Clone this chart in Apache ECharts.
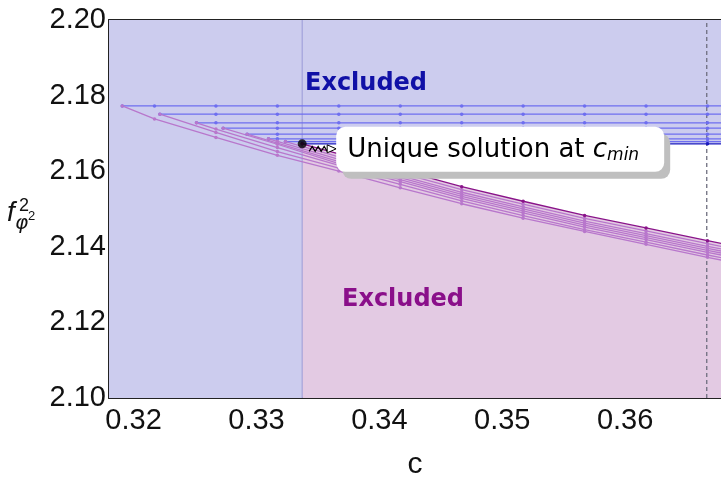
<!DOCTYPE html>
<html>
<head>
<meta charset="utf-8">
<script src="https://cdn.jsdelivr.net/npm/echarts@6/dist/echarts.min.js"></script>
<style>
  html, body { margin: 0; padding: 0; background: #fff; }
  #main { width: 721px; height: 478px; }
</style>
</head>
<body>
<div id="main"></div>
<script>
// start point (c, f^2) of each bound, lowest order first; the last one is c_min
const startC = [0.31908, 0.32214, 0.32512, 0.32729, 0.32924, 0.33098, 0.33236, 0.33372];
const startF = [2.17728, 2.17509, 2.17279, 2.17139, 2.16980, 2.16856, 2.16785, 2.16724];
// upper bounds (blue) are flat at these values
const upperF = [2.17728, 2.17509, 2.17279, 2.17139, 2.16980, 2.16856, 2.16785, 2.16724];
// c values where the bounds are sampled
const gridC = [0.3217, 0.3267, 0.3317, 0.3367, 0.3417, 0.3467, 0.3517, 0.3567, 0.3617, 0.3667, 0.3717];
// lower bounds (purple), one row per bound, null before the start
const lowerF = [
  [2.17384, 2.16893, 2.16420, 2.16005, 2.15562, 2.15139, 2.14756, 2.14407, 2.14066, 2.13723, 2.13395],
  [null, 2.17025, 2.16520, 2.16082, 2.15654, 2.15213, 2.14827, 2.14452, 2.14121, 2.13783, 2.13466],
  [null, 2.17115, 2.16626, 2.16151, 2.15723, 2.15282, 2.14896, 2.14521, 2.14190, 2.13852, 2.13535],
  [null, null, 2.16713, 2.16203, 2.15776, 2.15335, 2.14949, 2.14574, 2.14243, 2.13905, 2.13588],
  [null, null, 2.16745, 2.16256, 2.15829, 2.15388, 2.15002, 2.14627, 2.14296, 2.13958, 2.13641],
  [null, null, 2.16790, 2.16312, 2.15884, 2.15443, 2.15057, 2.14682, 2.14351, 2.14013, 2.13696],
  [null, null, null, 2.16380, 2.15953, 2.15512, 2.15126, 2.14751, 2.14420, 2.14082, 2.13765],
  [null, null, null, 2.16460, 2.16032, 2.15591, 2.15205, 2.14830, 2.14499, 2.14161, 2.13844]
];
const cDashed = 0.36664;
const xTicks = [0.32, 0.33, 0.34, 0.35, 0.36];
const xMinor = [0.318, 0.322, 0.324, 0.326, 0.328, 0.332, 0.334, 0.336, 0.338, 0.342, 0.344, 0.346,
  0.348, 0.352, 0.354, 0.356, 0.358, 0.362, 0.364, 0.366];

const xMin = 0.318, xMax = 0.3678, yMin = 2.10, yMax = 2.20;
const last = startC.length - 1;
const cMin = startC[last], fMin = startF[last];

const chart = echarts.init(document.getElementById('main'));

function upperLine(k) {
  const pts = [[startC[k], upperF[k]]];
  gridC.forEach(c => { if (c > startC[k]) pts.push([c, upperF[k]]); });
  return pts;
}
function lowerLine(k) {
  const pts = [[startC[k], startF[k]]];
  gridC.forEach((c, i) => { if (lowerF[k][i] != null) pts.push([c, lowerF[k][i]]); });
  return pts;
}

const tickFont = { fontFamily: 'Liberation Sans', fontSize: 29, color: '#111' };

function xAx(pos, ticks, len, withLine, withLabel) {
  return {
    type: 'value', position: pos, min: xMin, max: xMax,
    axisLine: { show: withLine, onZero: false, lineStyle: { color: '#222', width: 2 } },
    axisTick: { show: true, inside: true, length: len, customValues: ticks, lineStyle: { color: '#222', width: 1.5 } },
    axisLabel: withLabel ? Object.assign({ show: true, customValues: ticks, margin: 8, formatter: v => v.toFixed(2) }, tickFont) : { show: false },
    splitLine: { show: false }
  };
}

const series = [];
// excluded region above / left (blue)
series.push({
  type: 'line', silent: true, symbol: 'none', z: 1,
  data: [[xMin, yMin], [cMin, yMin], [cMin, fMin], [xMax, fMin]],
  lineStyle: { width: 0 },
  areaStyle: { color: '#ccccee', opacity: 1, origin: 'end' }
});
// excluded region below (pink)
series.push({
  type: 'line', silent: true, symbol: 'none', z: 1,
  data: [[cMin, yMin]].concat(lowerLine(last)),
  lineStyle: { width: 0 },
  areaStyle: { color: '#e3cae3', opacity: 1, origin: 'start' }
});
// vertical guides at c_min and at the dashed position
series.push({
  type: 'line', silent: true, symbol: 'none', z: 2,
  data: [[cMin, yMin], [cMin, yMax]],
  lineStyle: { color: '#9a9ad8', width: 1 }
});
series.push({
  type: 'line', silent: true, symbol: 'none', z: 2,
  data: [[cDashed, yMin], [cDashed, yMax]],
  lineStyle: { color: '#6e6e7e', width: 1.3, type: [4, 3] }
});
for (let k = 0; k < startC.length; k++) {
  const dark = k === last;
  series.push({
    type: 'line', z: dark ? 4 : 3, data: upperLine(k),
    symbol: 'circle', symbolSize: 3.5,
    lineStyle: { color: dark ? '#1c1cc0' : '#6e6ef0', width: 1.3 },
    itemStyle: { color: dark ? '#1c1cc0' : '#6e6ef0' }
  });
  series.push({
    type: 'line', z: dark ? 4 : 3, data: lowerLine(k),
    symbol: 'circle', symbolSize: 3.5,
    lineStyle: { color: dark ? '#8a148a' : '#b877cc', width: 1.3 },
    itemStyle: { color: dark ? '#8a148a' : '#b877cc' }
  });
}
// unique solution point
series.push({
  type: 'scatter', z: 10, data: [[cMin, fMin]], symbolSize: 9,
  itemStyle: { color: '#000' }
});

chart.setOption({
  animation: false,
  grid: { left: 109, right: 0, top: 20, bottom: 80, outerBoundsMode: 'none' },
  xAxis: [
    Object.assign(xAx('bottom', xTicks, 5, true, true), {
      name: 'c', nameLocation: 'middle', nameGap: 52,
      nameTextStyle: { fontFamily: 'Liberation Sans', fontSize: 30, color: '#111' }
    }),
    xAx('bottom', xMinor, 3, false, false),
    xAx('top', xTicks, 5, true, false),
    xAx('top', xMinor, 3, false, false)
  ],
  yAxis: {
    type: 'value', min: yMin, max: yMax, interval: 0.02,
    axisLine: { show: true, onZero: false, lineStyle: { color: '#222', width: 2 } },
    axisTick: { show: true, inside: true, length: 5, lineStyle: { color: '#222', width: 1.5 } },
    minorTick: { show: true, splitNumber: 4, length: 3, lineStyle: { color: '#222', width: 1.2 } },
    axisLabel: Object.assign({ margin: 3, formatter: v => v.toFixed(2) }, tickFont),
    splitLine: { show: false }, minorSplitLine: { show: false }
  },
  series: series,
  graphic: [
    { id: 'exTop', type: 'text', left: 305, top: 72, z: 20, style: { text: 'Excluded', fontFamily: 'DejaVu Sans', fontWeight: 'bold', fontSize: 24, fill: '#1010a6' } },
    { id: 'exBot', type: 'text', left: 342, top: 288, z: 20, style: { text: 'Excluded', fontFamily: 'DejaVu Sans', fontWeight: 'bold', fontSize: 24, fill: '#8a0f8a' } },
    // y axis name f^2_{phi^2}
    { id: 'yf', type: 'text', x: 7, y: 213, z: 20, style: { text: 'f', font: 'italic 28px "Liberation Sans"', fill: '#111', verticalAlign: 'middle' } },
    { id: 'ysup', type: 'text', x: 19, y: 206, z: 20, style: { text: '2', font: '18px "Liberation Sans"', fill: '#111', verticalAlign: 'middle' } },
    { id: 'yphi', type: 'text', x: 15, y: 224, z: 20, style: { text: 'φ', font: 'italic 20px "DejaVu Sans"', fill: '#111', verticalAlign: 'middle' } },
    { id: 'yphi2', type: 'text', x: 28, y: 216, z: 20, style: { text: '2', font: '13px "Liberation Sans"', fill: '#111', verticalAlign: 'middle' } }
  ]
});

// callout box and wavy pointer, placed next to the c_min point
const p = chart.convertToPixel({ xAxisIndex: 0, yAxisIndex: 0 }, [cMin, fMin]);
const bx = p[0] + 34, by = p[1] - 17, bw = 328, bh = 45;
const wave = [];
for (let i = 0; i <= 6; i++) wave.push([p[0] + 7 + i * 3, p[1] + 5 + (i % 2 ? -2.5 : 2.5)]);
chart.setOption({
  graphic: [
    { id: 'boxShadow', type: 'rect', z: 30, shape: { x: bx + 6, y: by + 7, width: bw, height: bh, r: 9 }, style: { fill: '#bfbfbf' } },
    { id: 'box', type: 'rect', z: 31, shape: { x: bx, y: by, width: bw, height: bh, r: 9 }, style: { fill: '#fff' } },
    { id: 'boxText', type: 'text', z: 32, x: bx + 11, y: by + bh / 2 + 1,
      style: {
        text: '{t|Unique solution at }{c|c}{s|min}', verticalAlign: 'middle',
        rich: {
          t: { fontFamily: 'DejaVu Sans', fontSize: 26, fill: '#000', lineHeight: 28 },
          c: { fontFamily: 'DejaVu Sans', fontStyle: 'italic', fontSize: 26, fill: '#000', lineHeight: 28 },
          s: { fontFamily: 'DejaVu Sans', fontStyle: 'italic', fontSize: 17, fill: '#000', lineHeight: 28, verticalAlign: 'bottom', padding: [10, 0, 0, 0] }
        }
      } },
    { id: 'wave', type: 'polyline', z: 15, shape: { points: wave }, style: { stroke: '#000', lineWidth: 1.2, fill: null } },
    { id: 'arrow', type: 'polygon', z: 15, shape: { points: [[p[0] + 25, p[1] + 1], [p[0] + 34, p[1] + 5], [p[0] + 25, p[1] + 9]] },
      style: { stroke: '#000', lineWidth: 1, fill: '#fff' } }
  ]
});
</script>
</body>
</html>
